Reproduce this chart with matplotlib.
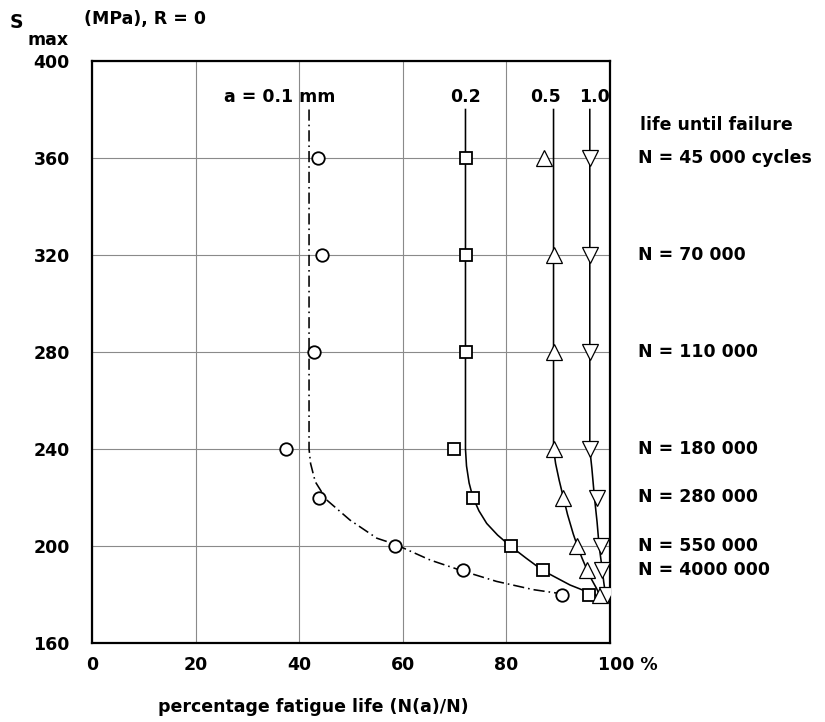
import matplotlib
matplotlib.use("Agg")
import matplotlib.pyplot as plt
from matplotlib.transforms import ScaledTranslation

# ---- data ----
stress_levels = [360, 320, 280, 240, 220, 200, 190, 180]
pct_a01 = [43.6, 44.4, 42.9, 37.4, 43.8, 58.4, 71.7, 90.8]
pct_a02 = [72.2, 72.2, 72.2, 69.8, 73.5, 80.8, 87.1, 96.0]
pct_a05 = [87.3, 89.1, 89.1, 89.1, 91.0, 93.6, 95.6, 98.1]
pct_a10 = [96.1, 96.1, 96.1, 96.1, 97.4, 98.2, 98.5, 99.4]

# trend curves
curve01_x = [41.9, 41.9, 42.2, 43.1, 45.3, 49.8, 55.0, 58.4, 65.3, 71.7, 78.1, 85.2, 89.7]
curve01_y = [380, 240, 234, 226.5, 219, 210.7, 203.2, 200.8, 194.2, 189.6, 185.4, 182, 180.6]
curve02_x = [72.1, 72.1, 72.3, 72.8, 73.5, 74.7, 76.2, 78.3, 80.7, 83.8, 87.1, 92.3, 97.5]
curve02_y = [380, 240, 233, 226, 220.3, 214.5, 209.3, 204.5, 200.1, 195, 189.8, 183.9, 179.5]
curve05_x = [89.1, 89.1, 89.5, 90.2, 91.0, 91.8, 92.9, 93.7, 94.6, 95.6, 96.5, 97.4, 98.3]
curve05_y = [380, 240, 234, 227, 220, 213, 205, 200, 195, 190, 186, 182.5, 178.5]
curve10_x = [96.1, 96.1, 96.5, 97.0, 97.5, 97.9, 98.4, 98.8, 99.3]
curve10_y = [380, 240, 232, 220, 210, 200, 192, 185, 177.5]

x_ticks = [0, 20, 40, 60, 80, 100]
x_ticklabels = ["0", "20", "40", "60", "80", "100 %"]
y_ticks = [160, 200, 240, 280, 320, 360, 400]

life_labels = ["N = 45 000 cycles", "N = 70 000", "N = 110 000", "N = 180 000",
               "N = 280 000", "N = 550 000", "N = 4000 000"]
life_levels = [360, 320, 280, 240, 220, 200, 190]

crack_labels = ["a = 0.1 mm", "0.2", "0.5", "1.0"]
crack_label_x = [36.3, 72.2, 87.6, 96.9]

# ---- styling ----
FONT = "DejaVu Sans"
FS = 12.5

fig = plt.figure(figsize=(8.25, 7.22), dpi=100)
ax = fig.add_axes([92 / 825, 1 - 643 / 722, (610 - 92) / 825, (643 - 61) / 722])

ax.set_xlim(0, 100)
ax.set_ylim(160, 400)
ax.set_xticks(x_ticks)
ax.set_xticklabels(x_ticklabels)
ax.set_yticks(y_ticks)
ax.grid(True, color="#8a8a8a", linewidth=0.8)
ax.set_axisbelow(True)
for s in ax.spines.values():
    s.set_linewidth(1.6)
    s.set_color("black")
ax.tick_params(length=0)
ax.tick_params(axis="y", pad=16)
ax.tick_params(axis="x", pad=9)
for lab in ax.get_xticklabels() + ax.get_yticklabels():
    lab.set_fontfamily(FONT)
    lab.set_fontweight("bold")
    lab.set_fontsize(FS)
last = ax.get_xticklabels()[-1]
last.set_transform(last.get_transform() + ScaledTranslation(18 / 100, 0, fig.dpi_scale_trans))

lw = 1.15
ax.plot(curve01_x, curve01_y, color="black", lw=lw, linestyle=(0, (7, 2.5, 1, 2.5)), zorder=3)
ax.plot(curve02_x, curve02_y, color="black", lw=lw, zorder=3)
ax.plot(curve05_x, curve05_y, color="black", lw=lw, zorder=3)
ax.plot(curve10_x, curve10_y, color="black", lw=lw, zorder=3)

mk = dict(linestyle="none", markerfacecolor="white", markeredgecolor="black", zorder=4)
ax.plot(pct_a01, stress_levels, marker="o", markersize=9, markeredgewidth=1.3, **mk)
ax.plot(pct_a02, stress_levels, marker="s", markersize=8.5, markeredgewidth=1.3, **mk)
ax.plot(pct_a05, stress_levels, marker="^", markersize=11, markeredgewidth=0.9, **mk)
ax.plot(pct_a10, stress_levels, marker="v", markersize=11, markeredgewidth=0.9, **mk)

# curve labels
for lab, xv in zip(crack_labels, crack_label_x):
    ax.text(xv, 385, lab, ha="center", va="center", fontsize=FS,
            fontfamily=FONT, fontweight="bold")

# life labels (right)
fig.text(640 / 825, 1 - 125 / 722, "life until failure", ha="left", va="center",
         fontsize=FS, fontfamily=FONT, fontweight="bold")
for lab, yv in zip(life_labels, life_levels):
    ax.annotate(lab, xy=(1.0, yv), xycoords=("axes fraction", "data"),
                xytext=(28, 0), textcoords="offset pixels", ha="left", va="center",
                fontsize=FS, fontfamily=FONT, fontweight="bold", annotation_clip=False)

# axis titles
fig.text(10 / 825, 1 - 22 / 722, "S", ha="left", va="center", fontsize=FS + 1,
         fontfamily=FONT, fontweight="bold")
fig.text(27 / 825, 1 - 40 / 722, "max", ha="left", va="center", fontsize=FS,
         fontfamily=FONT, fontweight="bold")
fig.text(84 / 825, 1 - 19 / 722, "(MPa), R = 0", ha="left", va="center", fontsize=FS,
         fontfamily=FONT, fontweight="bold")
fig.text(313 / 825, 1 - 707 / 722, "percentage fatigue life (N(a)/N)", ha="center",
         va="center", fontsize=FS, fontfamily=FONT, fontweight="bold")

fig.savefig("out.png", dpi=100)
